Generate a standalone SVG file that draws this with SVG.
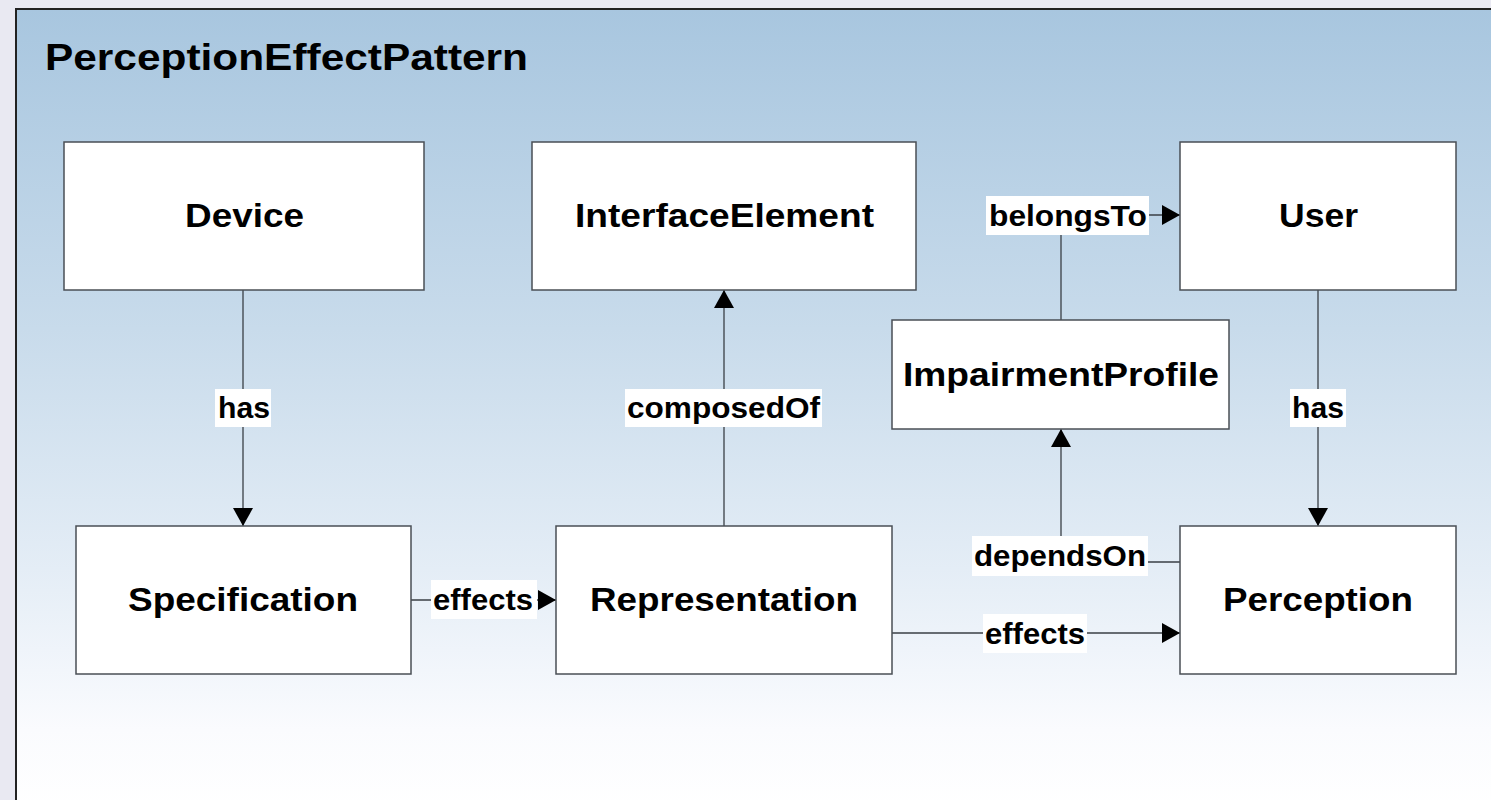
<svg xmlns="http://www.w3.org/2000/svg" width="1491" height="800" viewBox="0 0 1491 800">
<defs>
<linearGradient id="bg" x1="0" y1="0" x2="0" y2="1">
<stop offset="0" stop-color="#a8c6df"/>
<stop offset="0.4" stop-color="#c8dbeb"/>
<stop offset="0.7" stop-color="#e4edf6"/>
<stop offset="0.9" stop-color="#fafbfe"/>
<stop offset="1" stop-color="#ffffff"/>
</linearGradient>
<marker id="arr" viewBox="0 0 18 20" refX="18" refY="10" markerWidth="18" markerHeight="20" markerUnits="userSpaceOnUse" orient="auto">
<path d="M0,0 L18,10 L0,20 Z" fill="#000"/>
</marker>
<style>
.node rect{fill:#fff;stroke:#4a4f55;stroke-width:1.5}
.node text{font-family:"Liberation Sans",Arial,sans-serif;font-weight:bold;font-size:33px;fill:#000;text-anchor:middle}
.edge{fill:none;stroke:#3a3f45;stroke-width:1.3}
.lbg{fill:#fff}
.lbl{font-family:"Liberation Sans",Arial,sans-serif;font-weight:bold;font-size:29px;fill:#000;text-anchor:middle}
.title{font-family:"Liberation Sans",Arial,sans-serif;font-weight:bold;font-size:36px;fill:#000}
</style>
</defs>
<rect x="0" y="0" width="1491" height="800" fill="#e9e9f2"/>
<rect x="16" y="9" width="1490" height="800" fill="url(#bg)" stroke="#222" stroke-width="2"/>
<text class="title" x="45" y="70" textLength="483" lengthAdjust="spacingAndGlyphs">PerceptionEffectPattern</text>

<g id="connectors">
<path class="edge" d="M243,290 V526" marker-end="url(#arr)"/>
<path class="edge" d="M724,526 V290" marker-end="url(#arr)"/>
<path class="edge" d="M411,600 H556" marker-end="url(#arr)"/>
<path class="edge" d="M892,633 H1180" marker-end="url(#arr)"/>
<path class="edge" d="M1061,320 V215 H1180" marker-end="url(#arr)"/>
<path class="edge" d="M1180,562 H1061 V429" marker-end="url(#arr)"/>
<path class="edge" d="M1318,290 V526" marker-end="url(#arr)"/>
<rect class="lbg" x="215" y="389" width="56" height="38"/>
<text class="lbl" x="244" y="418" textLength="52" lengthAdjust="spacingAndGlyphs">has</text>
<rect class="lbg" x="625" y="389" width="197" height="38"/>
<text class="lbl" x="723.5" y="418" textLength="193" lengthAdjust="spacingAndGlyphs">composedOf</text>
<rect class="lbg" x="431" y="580" width="106" height="39"/>
<text class="lbl" x="483" y="610" textLength="100" lengthAdjust="spacingAndGlyphs">effects</text>
<rect class="lbg" x="983" y="614" width="104" height="39"/>
<text class="lbl" x="1035" y="644" textLength="100" lengthAdjust="spacingAndGlyphs">effects</text>
<rect class="lbg" x="986" y="196" width="163" height="39"/>
<text class="lbl" x="1068" y="226" textLength="158" lengthAdjust="spacingAndGlyphs">belongsTo</text>
<rect class="lbg" x="972" y="536" width="176" height="40"/>
<text class="lbl" x="1060" y="566" textLength="172" lengthAdjust="spacingAndGlyphs">dependsOn</text>
<rect class="lbg" x="1290" y="389" width="56" height="38"/>
<text class="lbl" x="1318" y="418" textLength="52" lengthAdjust="spacingAndGlyphs">has</text>
</g>

<g id="device" class="node"><rect x="64" y="142" width="360" height="148"/><text x="244.5" y="227" textLength="119" lengthAdjust="spacingAndGlyphs">Device</text></g>
<g id="interfaceElement" class="node"><rect x="532" y="142" width="384" height="148"/><text x="724.5" y="227" textLength="299" lengthAdjust="spacingAndGlyphs">InterfaceElement</text></g>
<g id="user" class="node"><rect x="1180" y="142" width="276" height="148"/><text x="1318.5" y="227" textLength="79" lengthAdjust="spacingAndGlyphs">User</text></g>
<g id="impairmentProfile" class="node"><rect x="892" y="320" width="337" height="109"/><text x="1061" y="386" textLength="316" lengthAdjust="spacingAndGlyphs">ImpairmentProfile</text></g>
<g id="specification" class="node"><rect x="76" y="526" width="335" height="148"/><text x="243" y="611" textLength="230" lengthAdjust="spacingAndGlyphs">Specification</text></g>
<g id="representation" class="node"><rect x="556" y="526" width="336" height="148"/><text x="724" y="611" textLength="268" lengthAdjust="spacingAndGlyphs">Representation</text></g>
<g id="perception" class="node"><rect x="1180" y="526" width="276" height="148"/><text x="1318" y="611" textLength="190" lengthAdjust="spacingAndGlyphs">Perception</text></g>
</svg>
